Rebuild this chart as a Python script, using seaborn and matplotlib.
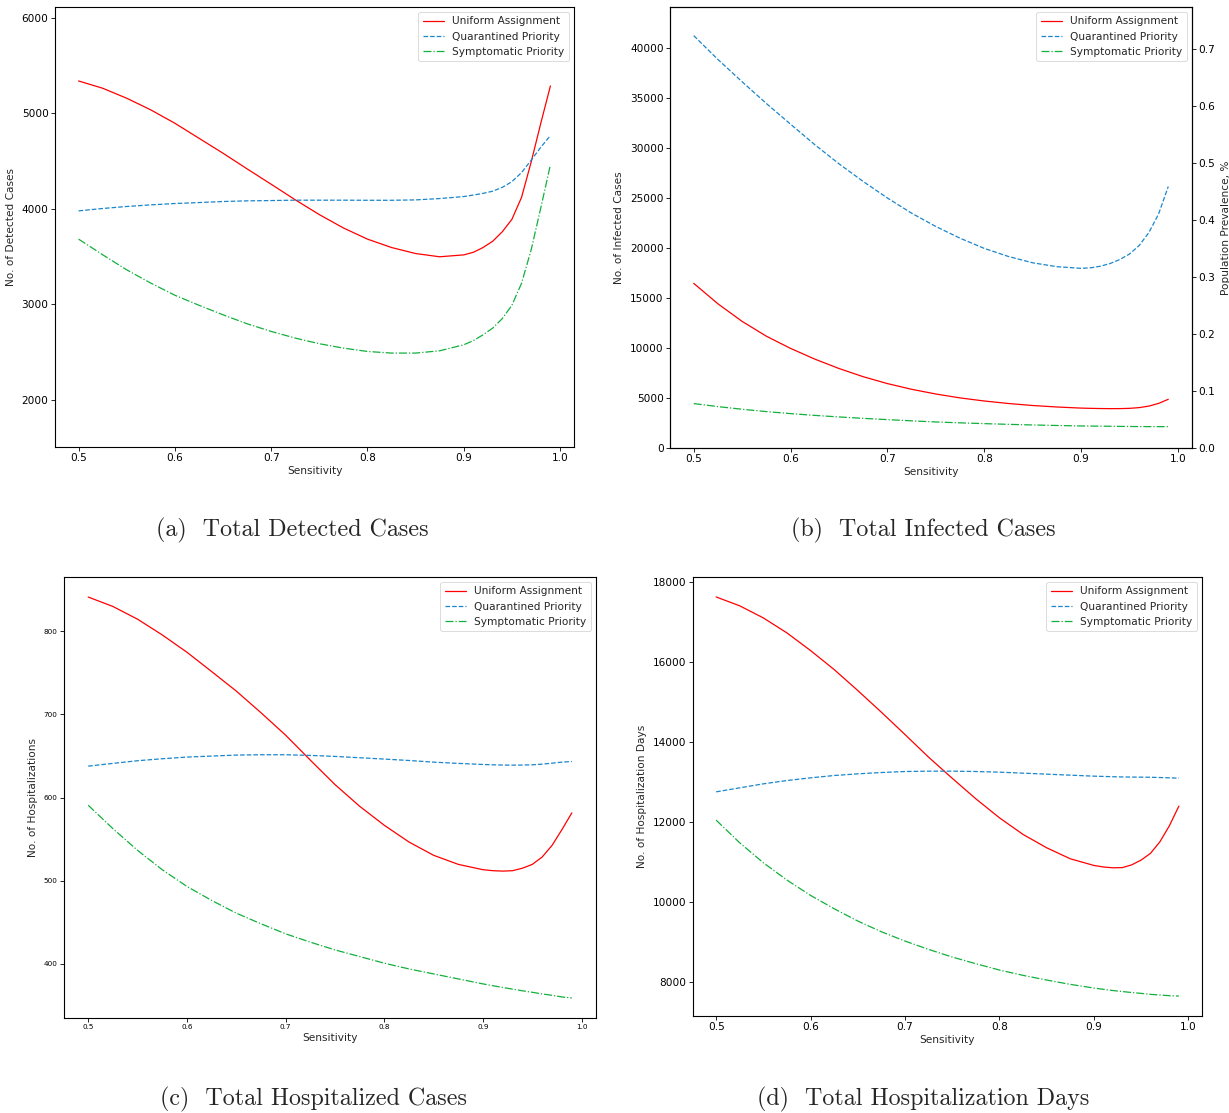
import numpy as np
import pandas as pd
import matplotlib
matplotlib.use("Agg")
import matplotlib.pyplot as plt
import seaborn as sns

# ---------------- data ----------------
sensitivity = [0.500, 0.525, 0.550, 0.575, 0.600, 0.625, 0.650, 0.675, 0.700, 0.725,
               0.750, 0.775, 0.800, 0.825, 0.850, 0.875, 0.900,
               0.910, 0.920, 0.930, 0.940, 0.950, 0.960, 0.970, 0.980, 0.990]
strategies = ["Uniform Assignment", "Quarantined Priority", "Symptomatic Priority"]

detected_uniform = [5340, 5264, 5159, 5037, 4897, 4740, 4583, 4419, 4258, 4095,
                    3940, 3800, 3683, 3595, 3532, 3498, 3518,
                    3545, 3595, 3660, 3760, 3890, 4120, 4490, 4897, 5288]
detected_quarantined = [3979, 4004, 4025, 4042, 4056, 4066, 4077, 4084, 4087, 4091,
                        4091, 4091, 4090, 4090, 4094, 4108, 4129,
                        4145, 4162, 4185, 4225, 4285, 4380, 4510, 4645, 4768]
detected_symptomatic = [3683, 3519, 3361, 3222, 3095, 2990, 2890, 2796, 2716, 2646,
                        2587, 2541, 2506, 2489, 2489, 2513, 2576,
                        2620, 2680, 2750, 2850, 2990, 3220, 3570, 4010, 4461]

infected_uniform = [16464, 14420, 12660, 11180, 9960, 8890, 7950, 7130, 6440, 5870,
                    5400, 5010, 4700, 4450, 4250, 4100, 3990,
                    3965, 3945, 3935, 3940, 3965, 4040, 4190, 4460, 4870]
infected_quarantined = [41235, 38850, 36620, 34450, 32380, 30330, 28420, 26650, 25000,
                        23480, 22150, 20980, 19960, 19150, 18520, 18130, 17966,
                        18020, 18180, 18450, 18850, 19400, 20250, 21550, 23400, 26150]
infected_symptomatic = [4441, 4140, 3873, 3640, 3439, 3260, 3105, 2965, 2838, 2715,
                        2604, 2515, 2437, 2365, 2304, 2250, 2204,
                        2193, 2183, 2172, 2160, 2150, 2143, 2138, 2136, 2137]

hosp_uniform = [841, 829.7, 814.4, 795.5, 774.7, 751.5, 728, 702, 675, 645,
                615.6, 589.5, 566.6, 546.5, 530.5, 519.6, 513.2,
                512, 511.5, 512, 515, 519.6, 528.5, 542.5, 561.4, 581.5]
hosp_quarantined = [637.7, 641, 644.2, 646.6, 648.6, 649.8, 651, 651.4, 651.4, 650.6,
                    649.4, 647.8, 646.2, 644.5, 642.5, 641, 639.7,
                    639.3, 639, 638.9, 639, 639.3, 640.1, 641.3, 642.5, 643.3]
hosp_symptomatic = [590.7, 562.6, 536.5, 513.2, 493.1, 476.3, 461, 448.2, 436.1, 426.1,
                    416.8, 408.8, 400.8, 393.9, 387.9, 381.9, 375.9,
                    373.7, 371.6, 369.6, 367.6, 365.8, 363.8, 362.2, 360.2, 359]

days_uniform = [17617, 17395, 17093, 16718, 16277, 15802, 15278, 14736, 14178, 13612,
                13085, 12572, 12097, 11681, 11348, 11073, 10906,
                10868, 10848, 10852, 10920, 11040, 11210, 11500, 11900, 12389]
days_quarantined = [12746, 12846, 12946, 13029, 13096, 13154, 13196, 13229, 13254, 13263,
                    13263, 13254, 13238, 13213, 13188, 13163, 13138,
                    13131, 13124, 13118, 13115, 13113, 13110, 13104, 13096, 13088]
days_symptomatic = [12039, 11472, 10973, 10540, 10157, 9824, 9516, 9249, 9016, 8808,
                    8617, 8450, 8292, 8159, 8042, 7934, 7842,
                    7810, 7780, 7755, 7730, 7709, 7684, 7667, 7651, 7642]

captions = ["(a)  Total Detected Cases", "(b)  Total Infected Cases",
            "(c)  Total Hospitalized Cases", "(d)  Total Hospitalization Days"]
ylabels = ["No. of Detected Cases", "No. of Infected Cases",
           "No. of Hospitalizations", "No. of Hospitalization Days"]
right_label = "Population Prevalence, %"

# ---------------- style ----------------
sns.set_theme(style="ticks")
plt.rcParams["font.family"] = ["DejaVu Sans"]
plt.rcParams["axes.edgecolor"] = "black"
plt.rcParams["axes.linewidth"] = 0.8
plt.rcParams["xtick.color"] = "black"
plt.rcParams["ytick.color"] = "black"
plt.rcParams["xtick.major.size"] = 2.6
plt.rcParams["ytick.major.size"] = 2.6
plt.rcParams["xtick.major.width"] = 0.6
plt.rcParams["ytick.major.width"] = 0.6

colors = ["#ff0000", "#1a86cc", "#12b03c"]
styles = ["-", (0, (3.7, 1.6)), (0, (6.4, 1.6, 1.0, 1.6))]

W, H = 1229, 1113
fig = plt.figure(figsize=(W / 100, H / 100), dpi=100)

def frac(left, right, top, bottom):
    return [left / W, 1 - bottom / H, (right - left) / W, (bottom - top) / H]

positions = [frac(55, 574, 7, 447), frac(670, 1192, 7, 448),
             frac(64, 596, 577, 1018), frac(693, 1202, 577, 1016)]

datasets = [
    (detected_uniform, detected_quarantined, detected_symptomatic),
    (infected_uniform, infected_quarantined, infected_symptomatic),
    (hosp_uniform, hosp_quarantined, hosp_symptomatic),
    (days_uniform, days_quarantined, days_symptomatic),
]

fs = 7.6
tick_sizes = [7.6, 7.6, 5.2, 7.6]

for i, (pos, series) in enumerate(zip(positions, datasets)):
    ax = fig.add_axes(pos)
    for name, vals, c, ls in zip(strategies, series, colors, styles):
        df = pd.DataFrame({"Sensitivity": sensitivity, "value": vals})
        sns.lineplot(data=df, x="Sensitivity", y="value", ax=ax, color=c,
                     linestyle=ls, linewidth=0.9, label=name)
    ax.set_xlabel("Sensitivity", fontsize=fs, labelpad=2)
    ax.set_ylabel(ylabels[i], fontsize=fs)
    ax.tick_params(labelsize=tick_sizes[i], pad=2)
    ax.set_xticks([0.5, 0.6, 0.7, 0.8, 0.9, 1.0])
    for s in ax.spines.values():
        s.set_visible(True)
        s.set_color("black")
    if i == 0:
        ax.set_ylim(1505, 6115)
        ax.set_yticks([2000, 3000, 4000, 5000, 6000])
    if i == 1:
        ax.set_ylim(0, 44100)
        ax2 = ax.twinx()
        ax2.set_ylim(0, 0.773)
        ax2.set_ylabel(right_label, fontsize=fs)
        ax2.tick_params(labelsize=fs, pad=2)
        for s in ax2.spines.values():
            s.set_visible(True)
            s.set_color("black")
    leg = ax.legend(loc="upper right", fontsize=fs, frameon=True,
                    handlelength=2.0, borderpad=0.4, labelspacing=0.5)
    leg.get_frame().set_linewidth(0.6)
    leg.get_frame().set_edgecolor("#cccccc")

cap_pos = [(292, 530), (923, 530), (313, 1099), (923, 1099)]
for (cx, cy), txt in zip(cap_pos, captions):
    fig.text(cx / W, 1 - cy / H, txt, ha="center", va="center",
             fontsize=17.3, family=["cmr10", "DejaVu Serif"])

fig.savefig("out.png", dpi=100)
